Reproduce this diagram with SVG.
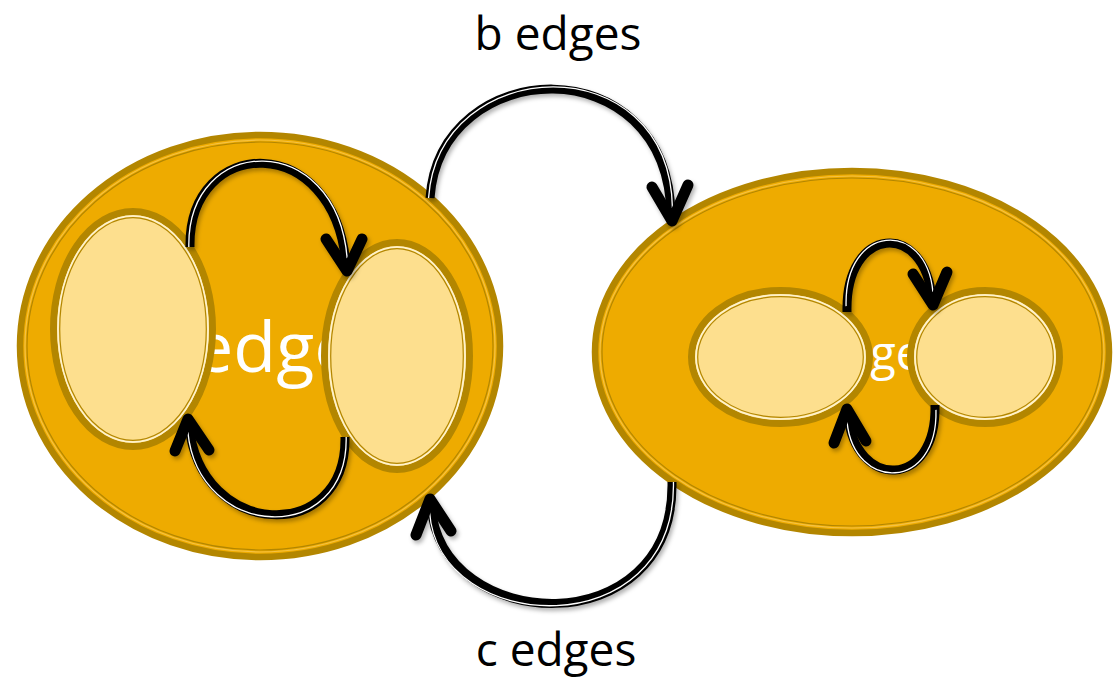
<svg xmlns="http://www.w3.org/2000/svg" width="1115" height="678" viewBox="0 0 1115 678">
<defs>
<filter id="sh" x="-20%" y="-20%" width="140%" height="140%">
<feDropShadow dx="2" dy="3" stdDeviation="2" flood-color="#000" flood-opacity="0.3"/>
</filter>
</defs>
<style>
.big{fill:#EEAB00;stroke:#B38600;stroke-width:6.5}
.bigl1{fill:none;stroke:#F5C243;stroke-width:1.2}
.bigl2{fill:none;stroke:#B38600;stroke-width:1.2}
.sm{fill:#FDDF8E;stroke:#B38600;stroke-width:7}
.sml1{fill:none;stroke:#FFF3CC;stroke-width:1.6}
.sml2{fill:none;stroke:#B38600;stroke-width:1.2}
.inner{font-family:"Open Sans","Liberation Sans",sans-serif;fill:#FFFFFF}
.lbl{font-family:"Open Sans","Liberation Sans",sans-serif;font-size:46px;fill:#000;text-anchor:middle}
.ln{fill:none;stroke:#000;stroke-width:9}
.lw{fill:none;stroke:#FFFFFF;stroke-width:1.3}
.ah{fill:none;stroke:#000;stroke-width:11;stroke-linecap:round;stroke-linejoin:round}
</style>
<g id="node-left">
<ellipse class="big" cx="260" cy="346" rx="240" ry="211"/>
<ellipse class="bigl1" cx="260" cy="346" rx="235" ry="206"/>
<ellipse class="bigl2" cx="260" cy="346" rx="233" ry="204"/>
<text class="inner" x="194" y="372" font-size="70">edges</text>
</g>
<g id="node-left-a">
<ellipse class="sm" cx="133" cy="329" rx="79.5" ry="117.5"/>
<ellipse class="sml1" cx="133" cy="329" rx="75" ry="113"/>
<ellipse class="sml2" cx="133" cy="329" rx="73.3" ry="111.3"/>
</g>
<g id="node-left-b">
<ellipse class="sm" cx="397" cy="356" rx="72.5" ry="113.5"/>
<ellipse class="sml1" cx="397" cy="356" rx="68" ry="109"/>
<ellipse class="sml2" cx="397" cy="356" rx="66.3" ry="107.3"/>
</g>
<g id="node-right">
<ellipse class="big" cx="852" cy="352" rx="257" ry="181"/>
<ellipse class="bigl1" cx="852" cy="352" rx="252" ry="176"/>
<ellipse class="bigl2" cx="852" cy="352" rx="250" ry="174"/>
<text class="inner" x="815" y="370" font-size="47">edges</text>
</g>
<g id="node-right-a">
<ellipse class="sm" cx="780.5" cy="357" rx="89" ry="66.5"/>
<ellipse class="sml1" cx="780.5" cy="357" rx="84.5" ry="62"/>
<ellipse class="sml2" cx="780.5" cy="357" rx="82.8" ry="60.3"/>
</g>
<g id="node-right-b">
<ellipse class="sm" cx="985" cy="357" rx="74.5" ry="66.5"/>
<ellipse class="sml1" cx="985" cy="357" rx="70" ry="62"/>
<ellipse class="sml2" cx="985" cy="357" rx="68.3" ry="60.3"/>
</g>
<g id="connectors">
<g filter="url(#sh)">
<path class="ln" d="M430 198 C440 55 668 45 671 215"/>
<path class="lw" transform="translate(551 200) scale(1.012) translate(-551 -200)" d="M430 198 C440 55 668 45 671 208"/>
<polyline class="ah" points="652,187 672,221 688,185"/>
</g>
<g filter="url(#sh)">
<path class="ln" d="M672 482 C675 645 440 635 431 505"/>
<path class="lw" transform="translate(551 490) scale(1.012) translate(-551 -490)" d="M672 482 C675 645 440 635 431 512"/>
<polyline class="ah" points="416,535 430,499 451,531"/>
</g>
<g filter="url(#sh)">
<path class="ln" d="M190 247 C188 135 335 130 346 265"/>
<path class="lw" transform="translate(268 250) scale(1.015) translate(-268 -250)" d="M190 247 C188 135 335 130 346 258"/>
<polyline class="ah" points="326,239 347,271 362,239"/>
</g>
<g filter="url(#sh)">
<path class="ln" d="M345 437 C347 545 200 540 189 425"/>
<path class="lw" transform="translate(267 430) scale(1.015) translate(-267 -430)" d="M345 437 C347 545 200 540 189 432"/>
<polyline class="ah" points="175,451 188,419 209,450"/>
</g>
<g filter="url(#sh)">
<path class="ln" d="M847 312 C845 225 925 220 932 299"/>
<path class="lw" transform="translate(889 300) scale(1.022) translate(-889 -300)" d="M847 306 C845 225 925 220 932 292"/>
<polyline class="ah" points="913,274 933,305 947,272"/>
</g>
<g filter="url(#sh)">
<path class="ln" d="M935 405 C937 490 855 490 848 415"/>
<path class="lw" transform="translate(891 415) scale(1.022) translate(-891 -415)" d="M935 410 C937 490 855 490 848 422"/>
<polyline class="ah" points="834,443 847,409 866,441"/>
</g>
</g>
<text class="lbl" x="558" y="50">b edges</text>
<text class="lbl" x="556" y="666">c edges</text>
</svg>
